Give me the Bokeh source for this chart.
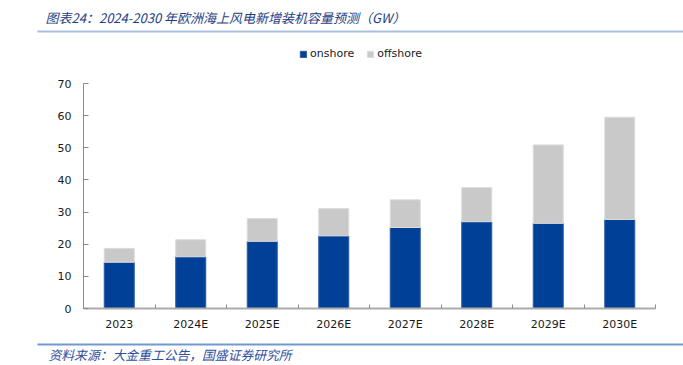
import numpy as np
from bokeh.plotting import figure
from bokeh.layouts import column
from bokeh.models import (Range1d, FixedTicker, Legend, LegendItem, ColumnDataSource)
from bokeh.core.properties import value
from bokeh.embed import file_html
from bokeh.resources import INLINE

# ---- data ----
categories = ["2023", "2024E", "2025E", "2026E", "2027E", "2028E", "2029E", "2030E"]
onshore = [14.4, 16.1, 20.9, 22.6, 25.2, 27.0, 26.5, 27.7]
offshore = [4.3, 5.3, 7.1, 8.5, 8.6, 10.6, 24.4, 31.8]
y_ticks = [0, 10, 20, 30, 40, 50, 60, 70]
y_max = 70

title_text = "图表24：2024-2030 年欧洲海上风电新增装机容量预测（GW）"
source_text = "资料来源：大金重工公告，国盛证券研究所"

W = 683
CJK = value("Noto Sans CJK SC")


def no_align(f):
    if "frame_align" in f.properties():
        f.frame_align = False


def blank(h):
    f = figure(width=W, height=h, x_range=Range1d(0, W), y_range=Range1d(h, 0),
               output_backend="svg", toolbar_location=None,
               x_axis_location=None, y_axis_location=None, min_border=0)
    f.grid.visible = False
    f.outline_line_color = None
    f.background_fill_color = "white"
    f.border_fill_color = "white"
    no_align(f)
    return f


# ---- header ----
head = blank(36)
head.text(x=[45], y=[17], text=[title_text], text_font=CJK, text_font_style="italic",
          text_font_size="13px", text_color="#1E3E86", text_baseline="middle", text_align="left")
head.segment(x0=[37], y0=[31], x1=[W], y1=[31], line_color="#A9BFDF", line_width=2)

# ---- main chart ----
n = len(categories)
xc = (np.arange(n) + 0.5).tolist()
src = ColumnDataSource(dict(x=xc, onshore=onshore, offshore=offshore))

# frame: bottom at 272 (fig px), 0..70 spans 225 px, frame top at 4 px
frame_h = 300 - 4 - 28
y_top = y_max * frame_h / 225.0

p = figure(width=W, height=300, x_range=Range1d(0, n), y_range=Range1d(0, y_top),
           output_backend="svg", toolbar_location=None,
           min_border_left=83, min_border_right=28, min_border_top=4, min_border_bottom=28)
p.grid.visible = False
p.outline_line_color = None
p.background_fill_color = "white"
p.border_fill_color = "white"
no_align(p)

rs = p.vbar_stack(["onshore", "offshore"], x="x", width=0.42, source=src,
                  fill_color=["#004097", "#C9C9C9"], line_color=["#2F5DA5", "#DCDCDC"],
                  line_width=1)

xa = p.xaxis[0]
xa.ticker = FixedTicker(ticks=xc, minor_ticks=list(range(n + 1)))
xa.major_label_overrides = {x: c for x, c in zip(xc, categories)}
xa.major_tick_in = 0
xa.major_tick_out = 0
xa.minor_tick_in = 4
xa.minor_tick_out = 0
xa.minor_tick_line_color = "#8C8C8C"
xa.axis_line_color = "#ABABAB"
xa.axis_line_width = 2
xa.major_label_standoff = 9
xa.major_label_text_font = "DejaVu Sans"
xa.major_label_text_font_size = "11px"
xa.major_label_text_color = "#1A1A1A"

ya = p.yaxis[0]
ya.ticker = FixedTicker(ticks=y_ticks, minor_ticks=[])
ya.bounds = (0, y_max)
ya.major_tick_in = 5
ya.major_tick_out = 0
ya.major_tick_line_color = "#8C8C8C"
ya.axis_line_color = "#8C8C8C"
ya.major_label_standoff = 12
ya.major_label_text_font = "DejaVu Sans"
ya.major_label_text_font_size = "11px"
ya.major_label_text_color = "#1A1A1A"

legend = Legend(items=[LegendItem(label="onshore", renderers=[rs[0]]),
                       LegendItem(label="offshore", renderers=[rs[1]])],
                orientation="horizontal", location=(216, 248),
                glyph_width=8, glyph_height=8, label_height=8, label_standoff=3,
                spacing=12, padding=0, margin=0, border_line_color=None,
                background_fill_alpha=0, label_text_font="DejaVu Sans",
                label_text_font_size="11px", label_text_color="#1A1A1A")
p.add_layout(legend)

# ---- footer ----
foot = blank(29)
foot.segment(x0=[37], y0=[8], x1=[W], y1=[8], line_color="#7099D0", line_width=2)
foot.text(x=[48], y=[18], text=[source_text], text_font=CJK, text_font_style="italic",
          text_font_size="12.8px", text_color="#2F4E9E", text_baseline="middle", text_align="left")

layout = column(head, p, foot, spacing=0)
open("out.html", "w").write(file_html(layout, INLINE))
